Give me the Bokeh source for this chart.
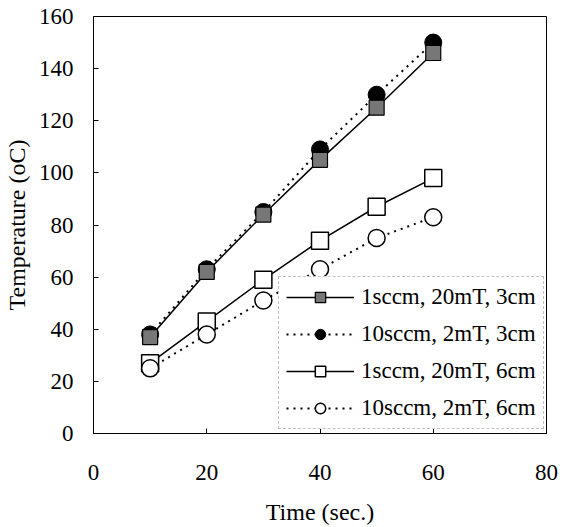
from bokeh.plotting import figure
from bokeh.models import Range1d, FixedTicker, Legend, LegendItem
from bokeh.embed import file_html
from bokeh.resources import INLINE

# ---- data ----
time_s = [10, 20, 30, 40, 50, 60]
temp_1sccm_20mT_3cm = [37, 62, 84, 105, 125, 146]
temp_10sccm_2mT_3cm = [38, 63, 85, 109, 130, 150]
temp_1sccm_20mT_6cm = [27, 43, 59, 74, 87, 98]
temp_10sccm_2mT_6cm = [25, 38, 51, 63, 75, 83]
series_labels = ["1sccm, 20mT, 3cm", "10sccm, 2mT, 3cm",
                 "1sccm, 20mT, 6cm", "10sccm, 2mT, 6cm"]
x_ticks = [0, 20, 40, 60, 80]
y_ticks = [0, 20, 40, 60, 80, 100, 120, 140, 160]

FONT = "Liberation Serif"

p = figure(width=585, height=527, x_range=Range1d(0, 80), y_range=Range1d(0, 160),
           output_backend="svg", toolbar_location=None,
           min_border_left=93, min_border_right=39, min_border_top=16, min_border_bottom=93)
p.background_fill_color = "white"
p.border_fill_color = "white"
p.outline_line_color = "black"
p.outline_line_width = 1
p.xgrid.visible = False
p.ygrid.visible = False

for ax in (p.xaxis[0], p.yaxis[0]):
    ax.axis_line_color = "black"
    ax.major_tick_in = 5
    ax.major_tick_out = 0
    ax.minor_tick_line_color = None
    ax.major_tick_line_color = "black"
    ax.major_label_text_font = FONT
    ax.major_label_text_font_size = "23px"
    ax.major_label_text_color = "black"
    ax.axis_label_text_font = FONT
    ax.axis_label_text_font_size = "24px"
    ax.axis_label_text_font_style = "normal"
    ax.axis_label_text_color = "black"

p.xaxis[0].ticker = FixedTicker(ticks=x_ticks)
p.yaxis[0].ticker = FixedTicker(ticks=y_ticks)
p.xaxis[0].axis_label = "Time (sec.)"
p.yaxis[0].axis_label = "Temperature (oC)"
p.xaxis[0].major_label_standoff = 31
p.xaxis[0].axis_label_standoff = 16
p.yaxis[0].major_label_standoff = 20
p.yaxis[0].axis_label_standoff = 6

# lines
l2 = p.line(time_s, temp_10sccm_2mT_3cm, line_color="black", line_width=2, line_dash="2 5")
l1 = p.line(time_s, temp_1sccm_20mT_3cm, line_color="black", line_width=1.5)
l4 = p.line(time_s, temp_10sccm_2mT_6cm, line_color="black", line_width=2, line_dash="2 5")
l3 = p.line(time_s, temp_1sccm_20mT_6cm, line_color="black", line_width=1.5)

# markers
m2 = p.scatter(time_s, temp_10sccm_2mT_3cm, marker="circle", size=17,
               fill_color="black", line_color="black")
m1 = p.scatter(time_s, temp_1sccm_20mT_3cm, marker="square", size=15,
               fill_color="#777777", line_color="black", line_width=1.2)
m3 = p.scatter(time_s, temp_1sccm_20mT_6cm, marker="square", size=17,
               fill_color="white", line_color="black", line_width=1.5)
m4 = p.scatter(time_s, temp_10sccm_2mT_6cm, marker="circle", size=17,
               fill_color="white", line_color="black", line_width=1.5)

legend = Legend(items=[
    LegendItem(label=series_labels[0], renderers=[l1, m1]),
    LegendItem(label=series_labels[1], renderers=[l2, m2]),
    LegendItem(label=series_labels[2], renderers=[l3, m3]),
    LegendItem(label=series_labels[3], renderers=[l4, m4]),
], location=(185, 4))
legend.label_text_font = FONT
legend.label_text_font_size = "23px"
legend.label_text_color = "black"
legend.glyph_width = 68
legend.glyph_height = 26
legend.label_height = 26
legend.label_standoff = 7
legend.spacing = 11
legend.padding = 7
legend.margin = 0
legend.border_line_color = "#888888"
legend.border_line_dash = "2 2"
legend.border_line_width = 1
legend.background_fill_color = "white"
legend.background_fill_alpha = 1
p.add_layout(legend, "center")

open("out.html", "w").write(file_html(p, INLINE))
